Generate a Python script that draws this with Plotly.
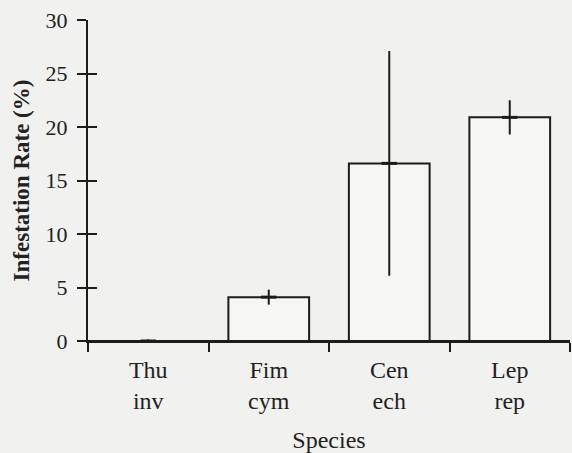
import plotly.graph_objects as go

# Infestation rate by species (mean with error)
species = ["Thu<br>inv", "Fim<br>cym", "Cen<br>ech", "Lep<br>rep"]
infestation = [0.0, 4.1, 16.6, 20.9]
error = [0.15, 0.7, 10.5, 1.6]

y_ticks = [0, 5, 10, 15, 20, 25, 30]

INK = "#1c1c1c"
BG = "#f1f1ef"
SERIF = "Liberation Serif"

# a near-zero bar gets no outline so it does not thicken the axis line
outline_widths = [0 if v < 0.5 else 2 for v in infestation]

fig = go.Figure()

fig.add_trace(go.Bar(
    x=species,
    y=infestation,
    width=0.67,
    # translucent white fill keeps the baseline visible under an empty bar
    marker=dict(color="rgba(255,255,255,0.35)",
                line=dict(color=INK, width=outline_widths)),
    error_y=dict(type="data", array=error, visible=True,
                 color=INK, thickness=2, width=0),
    showlegend=False,
))

# short mean markers, drawn on the overlaid y axis that carries the inner ticks
fig.add_trace(go.Scatter(
    x=species,
    y=infestation,
    mode="markers",
    marker=dict(symbol="line-ew", size=11, line=dict(color=INK, width=3)),
    xaxis="x",
    yaxis="y2",
    showlegend=False,
    hoverinfo="skip",
    cliponaxis=False,
))

common_y = dict(
    range=[0, 30],
    tickvals=y_ticks,
    tickwidth=2,
    tickcolor=INK,
    showgrid=False,
    automargin=False,
)

fig.update_layout(
    width=572,
    height=453,
    margin=dict(l=88, r=2, t=20, b=112),
    paper_bgcolor=BG,
    plot_bgcolor=BG,
    xaxis=dict(
        type="category",
        categoryorder="array",
        categoryarray=species,
        range=[-0.5, 3.5],
        tickson="boundaries",
        ticks="outside",
        ticklen=9,
        tickwidth=2,
        tickcolor=INK,
        showline=True,
        linewidth=2,
        linecolor=INK,
        showgrid=False,
        zeroline=False,
        automargin=False,
        tickfont=dict(family=SERIF, size=24, color="#222"),
        ticklabelstandoff=6,
        title=dict(text="Species", font=dict(family=SERIF, size=24, color="#222"),
                   standoff=18),
    ),
    yaxis=dict(
        **common_y,
        ticks="outside",
        ticklen=9,
        showline=True,
        linewidth=2,
        linecolor=INK,
        zeroline=True,
        zerolinecolor=INK,
        zerolinewidth=2,
        tickfont=dict(family=SERIF, size=22, color="#222"),
        ticklabelstandoff=5,
        title=dict(text="<b>Infestation Rate (%)</b>",
                   font=dict(family=SERIF, size=23, color="#222"),
                   standoff=10),
    ),
    yaxis2=dict(
        **common_y,
        overlaying="y",
        anchor="x",
        side="left",
        ticks="inside",
        ticklen=9,
        zeroline=False,
        showticklabels=False,
        showline=False,
    ),
)

fig.write_html("out.html")
